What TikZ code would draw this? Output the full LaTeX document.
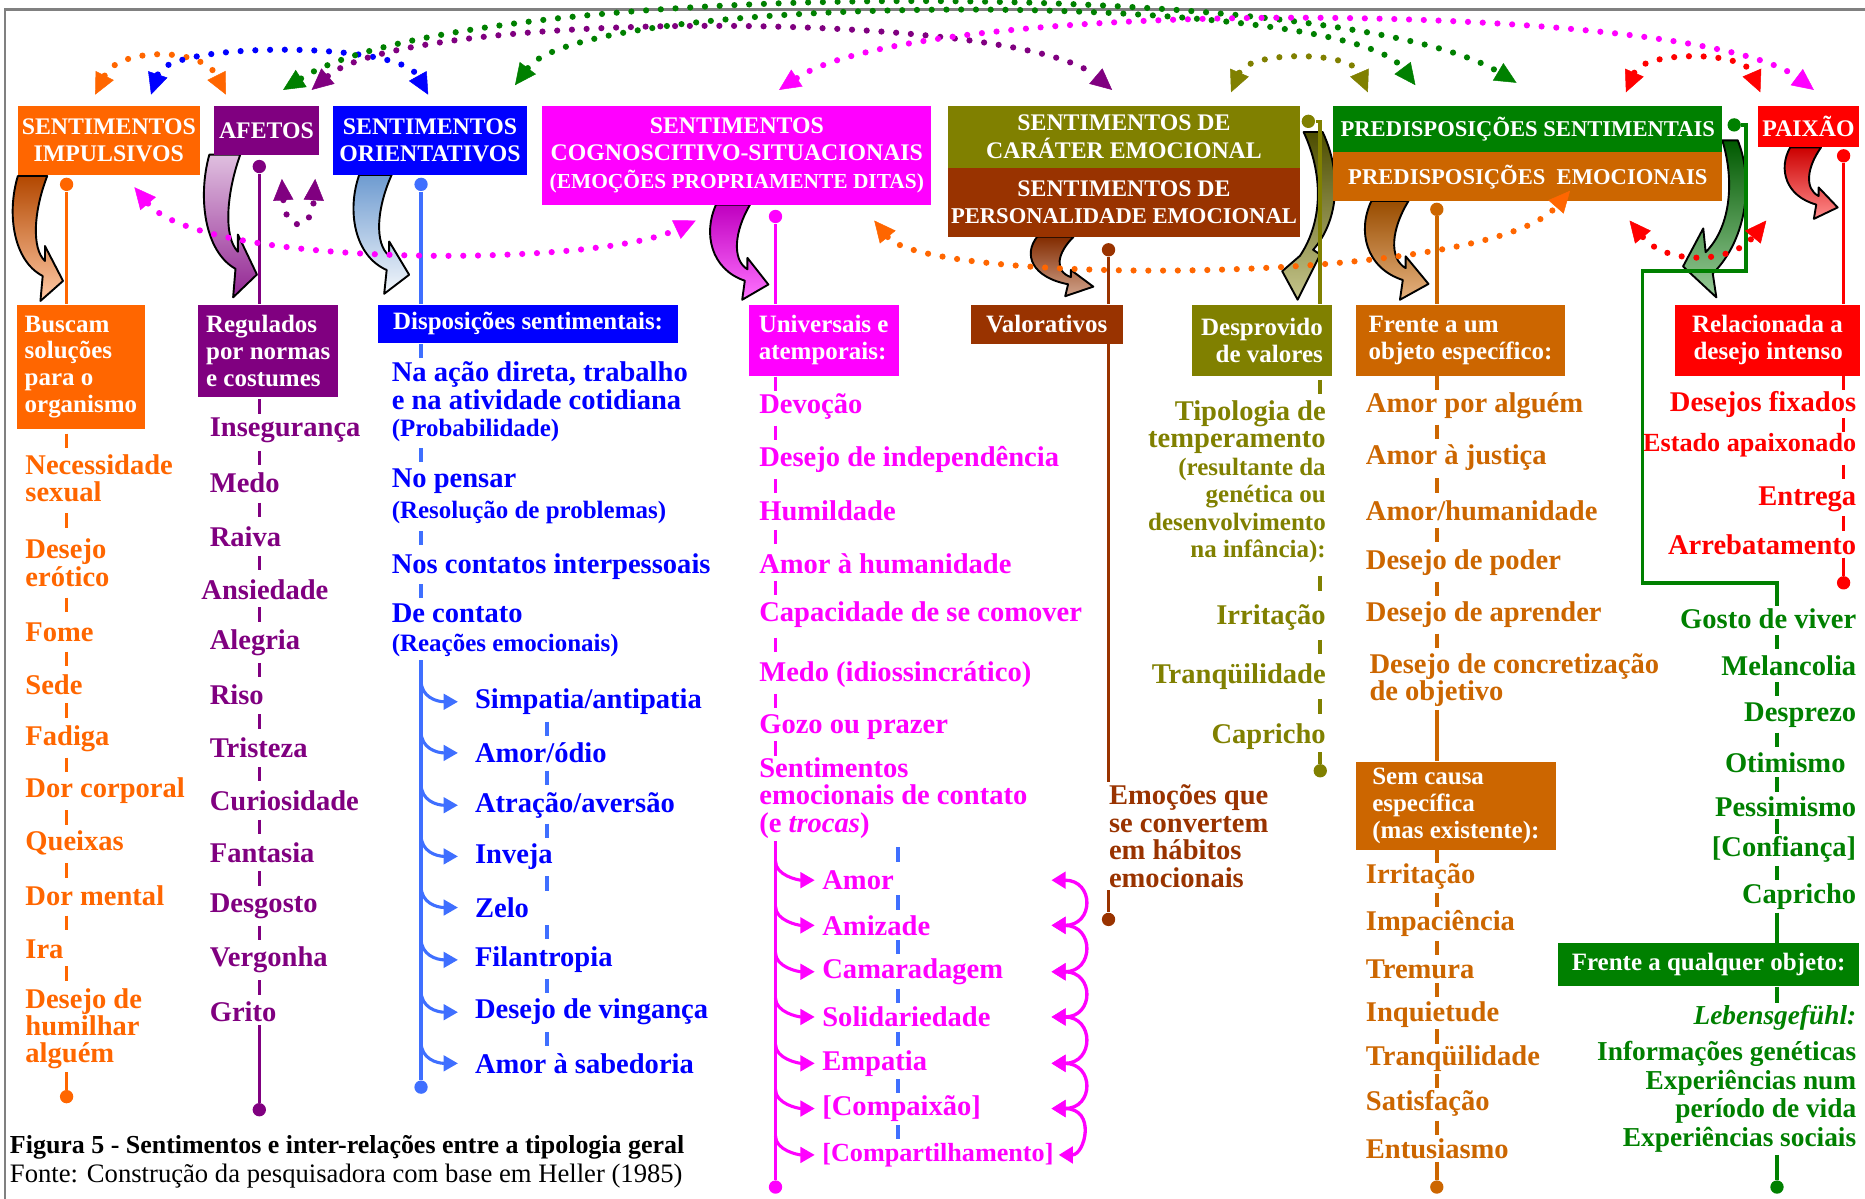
\documentclass[tikz,border=0pt]{standalone}
\usepackage{fontspec}
\setmainfont{Liberation Serif}
\usetikzlibrary{arrows.meta,calc}

\definecolor{cImp}{HTML}{FF6600}
\definecolor{cAfe}{HTML}{800080}
\definecolor{cOri}{HTML}{0000FF}
\definecolor{cOriL}{HTML}{3F6FFF}
\definecolor{cAzl}{HTML}{6E9BD0}
\definecolor{cCog}{HTML}{FF00FF}
\definecolor{cCar}{HTML}{808000}
\definecolor{cPer}{HTML}{993300}
\definecolor{cPSe}{HTML}{008000}
\definecolor{cPEm}{HTML}{CC6600}
\definecolor{cPai}{HTML}{FF0000}

\newcommand{\hdr}{\fontsize{10}{11.5}\selectfont\bfseries}
\newcommand{\sbf}{\fontsize{10.5}{11.3}\selectfont\bfseries}
\newcommand{\itm}{\fontsize{12}{11.5}\selectfont\bfseries}
\lineskiplimit=-50pt

% 曲がった矢印
\newcommand{\curva}[5]{%
  \shadedraw[shift={#1}, xscale=#2, yscale=#3, top color=#4, bottom color=#5,
    draw=black, line width=0.8pt, line join=round]
    (0,0) .. controls (-10,30) and (-4,68) .. (22,80) -- (20,100) -- (40,84)
    -- (24,56) -- (24,68) .. controls (12,58) and (14,28) .. (26,0) -- cycle;}

\tikzset{
  hbox/.style={fill=#1, text=white, font=\hdr, align=center, inner sep=0pt},
  sbox/.style={fill=#1, text=white, font=\sbf, inner sep=0pt},
  esq/.style={text=#1, font=\itm, inner sep=1pt, anchor=west, align=left},
  dir/.style={text=#1, font=\itm, inner sep=1pt, anchor=east, align=right},
  pto/.style={circle, fill=#1, inner sep=0pt, minimum size=5.6pt},
  ln/.style={draw=#1, line width=1.5pt},
  traco/.style={draw=#1, line width=1.5pt,
    to path={($(\tikztostart)!.5!(\tikztotarget)$) ++(0,-6) -- ++(0,12)}},
  ramo/.style={draw=#1, line width=1.3pt, -{Triangle[length=6pt,width=6.5pt]}},
  chave/.style={draw=#1, line width=1.4pt,
    {Triangle[length=6pt,width=7pt]}-{Triangle[length=6pt,width=7pt]}},
  arco/.style={draw=#1, line width=2.6pt, line cap=round, dash pattern=on 0pt off 6.2pt,
    {Triangle[length=9pt,width=8.5pt,line width=0.2pt]}-{Triangle[length=9pt,width=8.5pt,line width=0.2pt]}}
}

\begin{document}
\begin{tikzpicture}[x=0.5pt, y=-0.5pt]
  \useasboundingbox (0,0) rectangle (1568,1008);

  % 枠
  \draw[gray, line width=1pt] (4,1008) -- (4,8) -- (1568,8);

  % 曲がった矢印
  \curva{(15,148)}{0.95}{1.05}{cImp!70!black}{cImp!35!white}
  \curva{(176,130)}{1}{1.2}{cAfe!25!white}{cAfe!85!white}
  \curva{(302,147)}{1.05}{1}{cAzl}{cAzl!8!white}
  \curva{(602,172)}{1.1}{0.8}{cCog!75!black}{cCog!55!white}
  \curva{(872,199)}{1.18}{0.5}{cPer!85!black}{cPer!45!white}
  \curva{(1153,169)}{1.2}{0.83}{cPEm!75!black}{cPEm!50!white}
  \curva{(1505,124)}{1}{0.6}{cPai!80!black}{cPai!45!white}
  \shadedraw[top color=cCar!60!black, bottom color=cCar!45!white, line width=0.8pt, line join=round]
    (1112,111) .. controls (1128,145) and (1126,185) .. (1104,210) -- (1110,214) -- (1091,252)
    -- (1078,228) -- (1093,215) .. controls (1113,185) and (1112,145) .. (1096,111) -- cycle;
  \shadedraw[top color=cPSe!70!black, bottom color=cPSe!40!white, line width=0.8pt, line join=round]
    (1461,118) .. controls (1474,150) and (1470,200) .. (1440,230) -- (1443,250) -- (1415,224)
    -- (1432,192) -- (1434,212) .. controls (1456,190) and (1458,150) .. (1448,118) -- cycle;

  % 見出し
  \node[hbox=cImp, minimum width=76.5pt, minimum height=29pt] (imp) at (91.5,118) {SENTIMENTOS\\IMPULSIVOS};
  \node[hbox=cAfe, minimum width=44pt, minimum height=20.5pt] (afe) at (224,109.5) {AFETOS};
  \node[hbox=cOri, minimum width=81.5pt, minimum height=29pt] (ori) at (361.5,118) {SENTIMENTOS\\ORIENTATIVOS};
  \node[hbox=cCog, minimum width=163.5pt, minimum height=41.5pt] (cog) at (619.5,130.5)
    {SENTIMENTOS\\COGNOSCITIVO-SITUACIONAIS\\{\fontsize{9}{10}\selectfont(EMOÇÕES PROPRIAMENTE DITAS)}};
  \node[hbox=cCar, minimum width=148pt, minimum height=26pt] (car) at (945,115) {SENTIMENTOS DE\\CARÁTER EMOCIONAL};
  \node[hbox=cPer, minimum width=148pt, minimum height=29pt] (per) at (945,170)
    {SENTIMENTOS DE\\{\fontsize{9.5}{10}\selectfont PERSONALIDADE EMOCIONAL}};
  \node[hbox=cPSe, font=\fontsize{9.5}{11}\selectfont\bfseries, minimum width=163.5pt, minimum height=19.5pt] (pse) at (1284.5,108.5) {PREDISPOSIÇÕES SENTIMENTAIS};
  \node[hbox=cPEm, font=\fontsize{9.5}{11}\selectfont\bfseries, minimum width=163.5pt, minimum height=20.5pt] (pem) at (1284.5,148.5) {PREDISPOSIÇÕES\ \ EMOCIONAIS};
  \node[hbox=cPai, minimum width=42.5pt, minimum height=17.5pt] (pai) at (1520.5,106.5) {PAIXÃO};

  % 下の箱
  \node[sbox=cImp, minimum width=54pt, minimum height=52.5pt, align=left] (bus) at (68,308.5) {Buscam\\soluções\\para o\\organismo};
  \node[sbox=cAfe, minimum width=59pt, minimum height=39pt, align=left] (reg) at (225.5,295) {Regulados\\por normas\\e costumes};
  \node[sbox=cOri, minimum width=126pt, minimum height=16pt] (dis) at (444,272) {Disposições sentimentais:};
  \node[sbox=cCog, minimum width=63pt, minimum height=30pt, align=left] (uni) at (692.5,286) {Universais e\\atemporais:};
  \node[sbox=cPer, minimum width=64pt, minimum height=16.5pt] (val) at (880,272.5) {Valorativos};
  \node[sbox=cCar, minimum width=59pt, minimum height=30pt, align=right] (des) at (1061,286) {Desprovido\\de valores};
  \node[sbox=cPEm, minimum width=88pt, minimum height=30pt, align=left] (fre) at (1228,286) {Frente a um\\objeto específico:};
  \node[sbox=cPai, minimum width=78pt, minimum height=30pt, align=right] (rel) at (1486,286) {Relacionada a\\desejo intenso};
  \node[sbox=cPEm, minimum width=84pt, minimum height=37pt, align=left] (sem) at (1224,677.5) {Sem causa\\específica\\(mas existente):};
  \node[sbox=cPSe, minimum width=126.5pt, minimum height=18pt] (qua) at (1436.5,811) {Frente a qualquer objeto:};

  % 値を入れる
  \node[esq=cImp] (n1) at (19,402) {Necessidade\\sexual};
  \node[esq=cImp] (n2) at (19,473) {Desejo\\erótico};
  \node[esq=cImp] (n3) at (19,532) {Fome};
  \node[esq=cImp] (n4) at (19,576) {Sede};
  \node[esq=cImp] (n5) at (19,621) {Fadiga};
  \node[esq=cImp] (n6) at (19,665) {Dor corporal};
  \node[esq=cImp] (n7) at (19,709) {Queixas};
  \node[esq=cImp] (n8) at (19,753) {Dor mental};
  \node[esq=cImp] (n9) at (19,798) {Ira};
  \node[esq=cImp] (n10) at (19,865) {Desejo de\\humilhar\\alguém};

  \node[esq=cAfe] (a1) at (174,362) {Insegurança};
  \node[esq=cAfe] (a2) at (174,406) {Medo};
  \node[esq=cAfe] (a3) at (174,451) {Raiva};
  \node[esq=cAfe] (a4) at (167,496) {Ansiedade};
  \node[esq=cAfe] (a5) at (174,540) {Alegria};
  \node[esq=cAfe] (a6) at (174,584) {Riso};
  \node[esq=cAfe] (a7) at (174,629) {Tristeza};
  \node[esq=cAfe] (a8) at (174,673) {Curiosidade};
  \node[esq=cAfe] (a9) at (174,717) {Fantasia};
  \node[esq=cAfe] (a10) at (174,762) {Desgosto};
  \node[esq=cAfe] (a11) at (174,807) {Vergonha};
  \node[esq=cAfe] (a12) at (174,851) {Grito};

  \node[esq=cOri] (o1) at (327,338) {Na ação direta, trabalho\\e na atividade cotidiana\\{\sbf(Probabilidade)}};
  \node[esq=cOri] (o2) at (327,417) {No pensar\\[1.5pt]{\sbf(Resolução de problemas)}};
  \node[esq=cOri] (o3) at (327,476) {Nos contatos interpessoais};
  \node[esq=cOri] (o4) at (327,530) {De contato\\[1pt]{\sbf(Reações emocionais)}};

  \node[esq=cOri] (s1) at (397,590) {Simpatia/antipatia};
  \node[esq=cOri] (s2) at (397,633) {Amor/ódio};
  \node[esq=cOri] (s3) at (397,677) {Atração/aversão};
  \node[esq=cOri] (s4) at (397,720) {Inveja};
  \node[esq=cOri] (s5) at (397,763) {Zelo};
  \node[esq=cOri] (s6) at (397,807) {Filantropia};
  \node[esq=cOri] (s7) at (397,851) {Desejo de vingança};
  \node[esq=cOri] (s8) at (397,894) {Amor à sabedoria};

  \node[esq=cCog] (c1) at (636,342) {Devoção};
  \node[esq=cCog] (c2) at (636,386) {Desejo de independência};
  \node[esq=cCog] (c3) at (636,429) {Humildade};
  \node[esq=cCog] (c4) at (636,474) {Amor à humanidade};
  \node[esq=cCog] (c5) at (636,517) {Capacidade de se comover};
  \node[esq=cCog] (c6) at (636,567) {Medo (idiossincrático)};
  \node[esq=cCog] (c7) at (636,611) {Gozo ou prazer};
  \node[esq=cCog] (c8) at (636,671) {Sentimentos\\emocionais de contato\\(e \textit{trocas})};

  \node[esq=cCog] (m1) at (689,740) {Amor};
  \node[esq=cCog] (m2) at (689,778) {Amizade};
  \node[esq=cCog] (m3) at (689,817) {Camaradagem};
  \node[esq=cCog] (m4) at (689,855) {Solidariedade};
  \node[esq=cCog] (m5) at (689,894) {Empatia};
  \node[esq=cCog] (m6) at (689,932) {[Compaixão]};
  \node[esq=cCog, font=\fontsize{11}{11.5}\selectfont\bfseries] (m7) at (689,971) {[Compartilhamento]};

  \node[esq=cPer] (em) at (930,703) {Emoções que\\se convertem\\em hábitos\\emocionais};

  \node[dir=cCar] (t1) at (1117,405) {Tipologia de\\temperamento\\{\sbf(resultante da}\\{\sbf genética ou}\\{\sbf desenvolvimento}\\{\sbf na infância):}};
  \node[dir=cCar] (t2) at (1117,519) {Irritação};
  \node[dir=cCar] (t3) at (1117,569) {Tranqüilidade};
  \node[dir=cCar] (t4) at (1117,619) {Capricho};

  \node[esq=cPEm] (f1) at (1146,341) {Amor por alguém};
  \node[esq=cPEm] (f2) at (1146,385) {Amor à justiça};
  \node[esq=cPEm] (f3) at (1146,429) {Amor/humanidade};
  \node[esq=cPEm] (f4) at (1146,473) {Desejo de poder};
  \node[esq=cPEm] (f5) at (1146,517) {Desejo de aprender};
  \node[esq=cPEm] (f6) at (1149,572) {Desejo de concretização\\de objetivo};

  \node[esq=cPEm] (g1) at (1146,737) {Irritação};
  \node[esq=cPEm] (g2) at (1146,776) {Impaciência};
  \node[esq=cPEm] (g3) at (1146,815) {Tremura};
  \node[esq=cPEm] (g4) at (1146,853) {Inquietude};
  \node[esq=cPEm] (g5) at (1146,890) {Tranqüilidade};
  \node[esq=cPEm] (g6) at (1146,928) {Satisfação};
  \node[esq=cPEm] (g7) at (1146,966) {Entusiasmo};

  \node[dir=cPai] (r1) at (1563,340) {Desejos fixados};
  \node[dir=cPai, font=\fontsize{11}{11.5}\selectfont\bfseries] (r2) at (1563,374) {Estado apaixonado};
  \node[dir=cPai] (r3) at (1563,420) {Entrega};
  \node[dir=cPai] (r4) at (1563,458) {Arrebatamento};

  \node[dir=cPSe] (v1) at (1563,520) {Gosto de viver};
  \node[dir=cPSe] (v2) at (1563,560) {Melancolia};
  \node[dir=cPSe] (v3) at (1563,601) {Desprezo};
  \node[dir=cPSe] (v4) at (1554,641) {Otimismo};
  \node[dir=cPSe] (v5) at (1563,678) {Pessimismo};
  \node[dir=cPSe] (v6) at (1563,714) {[Confiança]};
  \node[dir=cPSe] (v7) at (1563,754) {Capricho};
  \node[dir=cPSe, anchor=north east, font=\fontsize{11.5}{12}\selectfont\bfseries] (leb) at (1563,843)
    {\textit{Lebensgefühl:}\\[3pt]Informações genéticas\\Experiências num\\período de vida\\Experiências sociais};

  \node[anchor=west, inner sep=0pt, font=\fontsize{10.9}{12}\selectfont\bfseries] (leg) at (8,965)
    {Figura 5 - Sentimentos e inter-relações entre a tipologia geral};
  \node[anchor=west, inner sep=0pt, font=\fontsize{11.2}{12}\selectfont] (fon) at (8,989)
    {Fonte: Construção da pesquisadora com base em Heller (1985)};

  % 点
  \node[pto=cImp] (d1) at (56,155) {};
  \node[pto=cImp] (d1b) at (56,922) {};
  \node[pto=cAfe] (d2) at (218,140) {};
  \node[pto=cAfe] (d2b) at (218,933) {};
  \node[pto=cOriL] (d3) at (354,155) {};
  \node[pto=cOriL] (d3b) at (354,914) {};
  \node[pto=cCog] (d4) at (652,182) {};
  \node[pto=cCog] (d4b) at (652,998) {};
  \node[pto=cPer] (d5) at (932,210) {};
  \node[pto=cPer] (d5b) at (932,773) {};
  \node[pto=cCar] (d6) at (1100,102) {};
  \node[pto=cCar] (d6b) at (1110,648) {};
  \node[pto=cPEm] (d7) at (1208,176) {};
  \node[pto=cPEm] (d7b) at (1208,998) {};
  \node[pto=cPai] (d8) at (1550,131) {};
  \node[pto=cPai] (d8b) at (1550,490) {};
  \node[pto=cPSe] (d9) at (1458,105) {};
  \node[pto=cPSe] (d9b) at (1494,998) {};
  \coordinate (bsx) at (460,600);
  \coordinate (msx) at (755,700);
  \coordinate (rbx) at (884,740);

  % 線を引く
  \draw[ln=cImp] (d1) -- (bus.north -| d1);
  \draw[traco=cImp] (bus.south -| d1) to (n1.north -| d1);
  \draw[traco=cImp] (n1.south -| d1) to (n2.north -| d1);
  \draw[traco=cImp] (n2.south -| d1) to (n3.north -| d1);
  \draw[traco=cImp] (n3.south -| d1) to (n4.north -| d1);
  \draw[traco=cImp] (n4.south -| d1) to (n5.north -| d1);
  \draw[traco=cImp] (n5.south -| d1) to (n6.north -| d1);
  \draw[traco=cImp] (n6.south -| d1) to (n7.north -| d1);
  \draw[traco=cImp] (n7.south -| d1) to (n8.north -| d1);
  \draw[traco=cImp] (n8.south -| d1) to (n9.north -| d1);
  \draw[traco=cImp] (n9.south -| d1) to (n10.north -| d1);
  \draw[ln=cImp] (n10.south -| d1) -- (d1b);

  \draw[ln=cAfe] (d2) -- (reg.north -| d2);
  \draw[traco=cAfe] (reg.south -| d2) to (a1.north -| d2);
  \draw[traco=cAfe] (a1.south -| d2) to (a2.north -| d2);
  \draw[traco=cAfe] (a2.south -| d2) to (a3.north -| d2);
  \draw[traco=cAfe] (a3.south -| d2) to (a4.north -| d2);
  \draw[traco=cAfe] (a4.south -| d2) to (a5.north -| d2);
  \draw[traco=cAfe] (a5.south -| d2) to (a6.north -| d2);
  \draw[traco=cAfe] (a6.south -| d2) to (a7.north -| d2);
  \draw[traco=cAfe] (a7.south -| d2) to (a8.north -| d2);
  \draw[traco=cAfe] (a8.south -| d2) to (a9.north -| d2);
  \draw[traco=cAfe] (a9.south -| d2) to (a10.north -| d2);
  \draw[traco=cAfe] (a10.south -| d2) to (a11.north -| d2);
  \draw[traco=cAfe] (a11.south -| d2) to (a12.north -| d2);
  \draw[ln=cAfe] (a12.south -| d2) -- (d2b);

  \draw[ln=cOriL] (d3) -- (dis.north -| d3);
  \draw[traco=cOriL] (dis.south -| d3) to (o1.north -| d3);
  \draw[traco=cOriL] (o1.south -| d3) to (o2.north -| d3);
  \draw[traco=cOriL] (o2.south -| d3) to (o3.north -| d3);
  \draw[traco=cOriL] (o3.south -| d3) to (o4.north -| d3);
  \draw[ln=cOriL] (o4.south -| d3) -- (d3b);
  \draw[traco=cOriL] (s1.south -| bsx) to (s2.north -| bsx);
  \draw[traco=cOriL] (s2.south -| bsx) to (s3.north -| bsx);
  \draw[traco=cOriL] (s3.south -| bsx) to (s4.north -| bsx);
  \draw[traco=cOriL] (s4.south -| bsx) to (s5.north -| bsx);
  \draw[traco=cOriL] (s5.south -| bsx) to (s6.north -| bsx);
  \draw[traco=cOriL] (s6.south -| bsx) to (s7.north -| bsx);
  \draw[traco=cOriL] (s7.south -| bsx) to (s8.north -| bsx);
  \draw[ramo=cOriL] ($(s1.west -| d3)+(0,-18)$) .. controls +(0,14) and +(-18,0) .. ($(s1.west)+(-12,0)$);
  \draw[ramo=cOriL] ($(s2.west -| d3)+(0,-18)$) .. controls +(0,14) and +(-18,0) .. ($(s2.west)+(-12,0)$);
  \draw[ramo=cOriL] ($(s3.west -| d3)+(0,-18)$) .. controls +(0,14) and +(-18,0) .. ($(s3.west)+(-12,0)$);
  \draw[ramo=cOriL] ($(s4.west -| d3)+(0,-18)$) .. controls +(0,14) and +(-18,0) .. ($(s4.west)+(-12,0)$);
  \draw[ramo=cOriL] ($(s5.west -| d3)+(0,-18)$) .. controls +(0,14) and +(-18,0) .. ($(s5.west)+(-12,0)$);
  \draw[ramo=cOriL] ($(s6.west -| d3)+(0,-18)$) .. controls +(0,14) and +(-18,0) .. ($(s6.west)+(-12,0)$);
  \draw[ramo=cOriL] ($(s7.west -| d3)+(0,-18)$) .. controls +(0,14) and +(-18,0) .. ($(s7.west)+(-12,0)$);
  \draw[ramo=cOriL] ($(s8.west -| d3)+(0,-18)$) .. controls +(0,14) and +(-18,0) .. ($(s8.west)+(-12,0)$);

  \draw[ln=cCog] (d4) -- (uni.north -| d4);
  \draw[traco=cCog] (uni.south -| d4) to (c1.north -| d4);
  \draw[traco=cCog] (c1.south -| d4) to (c2.north -| d4);
  \draw[traco=cCog] (c2.south -| d4) to (c3.north -| d4);
  \draw[traco=cCog] (c3.south -| d4) to (c4.north -| d4);
  \draw[traco=cCog] (c4.south -| d4) to (c5.north -| d4);
  \draw[traco=cCog] (c5.south -| d4) to (c6.north -| d4);
  \draw[traco=cCog] (c6.south -| d4) to (c7.north -| d4);
  \draw[traco=cCog] (c7.south -| d4) to (c8.north -| d4);
  \draw[ln=cCog] (c8.south -| d4) -- (d4b);
  \draw[traco=cOriL] (c8.south -| msx) to (m1.north -| msx);
  \draw[traco=cOriL] (m1.south -| msx) to (m2.north -| msx);
  \draw[traco=cOriL] (m2.south -| msx) to (m3.north -| msx);
  \draw[traco=cOriL] (m3.south -| msx) to (m4.north -| msx);
  \draw[traco=cOriL] (m4.south -| msx) to (m5.north -| msx);
  \draw[traco=cOriL] (m5.south -| msx) to (m6.north -| msx);
  \draw[traco=cOriL] (m6.south -| msx) to (m7.north -| msx);
  \draw[ramo=cCog] ($(m1.west -| d4)+(0,-16)$) .. controls +(0,12) and +(-14,0) .. ($(m1.west)+(-4,0)$);
  \draw[ramo=cCog] ($(m2.west -| d4)+(0,-16)$) .. controls +(0,12) and +(-14,0) .. ($(m2.west)+(-4,0)$);
  \draw[ramo=cCog] ($(m3.west -| d4)+(0,-16)$) .. controls +(0,12) and +(-14,0) .. ($(m3.west)+(-4,0)$);
  \draw[ramo=cCog] ($(m4.west -| d4)+(0,-16)$) .. controls +(0,12) and +(-14,0) .. ($(m4.west)+(-4,0)$);
  \draw[ramo=cCog] ($(m5.west -| d4)+(0,-16)$) .. controls +(0,12) and +(-14,0) .. ($(m5.west)+(-4,0)$);
  \draw[ramo=cCog] ($(m6.west -| d4)+(0,-16)$) .. controls +(0,12) and +(-14,0) .. ($(m6.west)+(-4,0)$);
  \draw[ramo=cCog] ($(m7.west -| d4)+(0,-16)$) .. controls +(0,12) and +(-14,0) .. ($(m7.west)+(-4,0)$);
  \draw[chave=cCog] (m1 -| rbx) .. controls +(36,0) and +(36,0) .. (m2 -| rbx);
  \draw[chave=cCog] (m2 -| rbx) .. controls +(36,0) and +(36,0) .. (m3 -| rbx);
  \draw[chave=cCog] (m3 -| rbx) .. controls +(36,0) and +(36,0) .. (m4 -| rbx);
  \draw[chave=cCog] (m4 -| rbx) .. controls +(36,0) and +(36,0) .. (m5 -| rbx);
  \draw[chave=cCog] (m5 -| rbx) .. controls +(36,0) and +(36,0) .. (m6 -| rbx);
  \draw[chave=cCog] (m6 -| rbx) .. controls +(38,0) and +(22,0) .. ($(m7.east)+(2,0)$);

  \draw[ln=cPer] (d5) -- (val.north -| d5);
  \draw[ln=cPer] (val.south -| d5) -- (em.north -| d5);
  \draw[ln=cPer] (em.south -| d5) -- (d5b);

  \draw[ln=cCar] (d6) -- (d6 -| d6b) -- (des.north -| d6b);
  \draw[traco=cCar] (des.south -| d6b) to (t1.north -| d6b);
  \draw[traco=cCar] (t1.south -| d6b) to (t2.north -| d6b);
  \draw[traco=cCar] (t2.south -| d6b) to (t3.north -| d6b);
  \draw[traco=cCar] (t3.south -| d6b) to (t4.north -| d6b);
  \draw[ln=cCar] (t4.south -| d6b) -- (d6b);

  \draw[ln=cPEm] (d7) -- (fre.north -| d7);
  \draw[traco=cPEm] (fre.south -| d7) to (f1.north -| d7);
  \draw[traco=cPEm] (f1.south -| d7) to (f2.north -| d7);
  \draw[traco=cPEm] (f2.south -| d7) to (f3.north -| d7);
  \draw[traco=cPEm] (f3.south -| d7) to (f4.north -| d7);
  \draw[traco=cPEm] (f4.south -| d7) to (f5.north -| d7);
  \draw[traco=cPEm] (f5.south -| d7) to (f6.north -| d7);
  \draw[ln=cPEm] (f6.south -| d7) -- (sem.north -| d7);
  \draw[traco=cPEm] (sem.south -| d7) to (g1.north -| d7);
  \draw[traco=cPEm] (g1.south -| d7) to (g2.north -| d7);
  \draw[traco=cPEm] (g2.south -| d7) to (g3.north -| d7);
  \draw[traco=cPEm] (g3.south -| d7) to (g4.north -| d7);
  \draw[traco=cPEm] (g4.south -| d7) to (g5.north -| d7);
  \draw[traco=cPEm] (g5.south -| d7) to (g6.north -| d7);
  \draw[traco=cPEm] (g6.south -| d7) to (g7.north -| d7);
  \draw[ln=cPEm] (g7.south -| d7) -- (d7b);

  \draw[ln=cPai] (d8) -- (rel.north -| d8);
  \draw[traco=cPai] (rel.south -| d8) to (r1.north -| d8);
  \draw[traco=cPai] (r1.south -| d8) to (r2.north -| d8);
  \draw[traco=cPai] (r2.south -| d8) to (r3.north -| d8);
  \draw[traco=cPai] (r3.south -| d8) to (r4.north -| d8);
  \draw[ln=cPai] (r4.south -| d8) -- (d8b);

  \draw[ln=cPSe] (d9) -- ++(10,0) -- ++(0,123) -- ++(-87,0) -- ++(0,262) -- ++(113,0) -- (v1.north -| d9b);
  \draw[traco=cPSe] (v1.south -| d9b) to (v2.north -| d9b);
  \draw[traco=cPSe] (v2.south -| d9b) to (v3.north -| d9b);
  \draw[traco=cPSe] (v3.south -| d9b) to (v4.north -| d9b);
  \draw[traco=cPSe] (v4.south -| d9b) to (v5.north -| d9b);
  \draw[traco=cPSe] (v5.south -| d9b) to (v6.north -| d9b);
  \draw[traco=cPSe] (v6.south -| d9b) to (v7.north -| d9b);
  \draw[ln=cPSe] (v7.south -| d9b) -- (qua.north -| d9b);
  \draw[ln=cPSe] (qua.south -| d9b) -- (leb.north -| d9b);
  \draw[ln=cPSe] (leb.south -| d9b) -- (d9b);

  % 点線の矢印
  \draw[arco=cImp] ($(imp.north)+(-11.5,-9)$) .. controls +(20,-40) and +(-20,-40) .. ($(afe.north)+(-34,-9)$);
  \draw[arco=cOri] ($(imp.north)+(35.5,-9)$) .. controls +(15,-45) and +(-25,-45) .. ($(ori.north)+(-1.5,-9)$);
  \draw[arco=cPSe] ($(afe.north)+(14,-13)$) .. controls +(150,-95) and +(-150,-90) .. ($(pse.north)+(-9.5,-19)$);
  \draw[arco=cPSe] ($(ori.north)+(71.5,-17)$) .. controls +(60,-80) and +(-60,-80) .. ($(pse.north)+(-94.5,-17)$);
  \draw[arco=cAfe] ($(afe.north)+(38,-13)$) .. controls +(80,-68) and +(-80,-68) .. ($(car.north)+(-10,-13)$);
  \draw[arco=cCog] ($(cog.north)+(35.5,-13)$) .. controls +(120,-80) and +(-100,-75) .. ($(pai.north)+(4.5,-13)$);
  \draw[arco=cCar] ($(car.north)+(90,-11)$) .. controls +(15,-35) and +(-15,-35) .. ($(pse.north)+(-134.5,-11)$);
  \draw[arco=cPai] ($(pse.north)+(82.5,-11)$) .. controls +(15,-35) and +(-15,-35) .. ($(pai.north)+(-40.5,-11)$);
  \draw[arco=cCog] ($(imp.south)+(21.5,10)$) .. controls +(57,68) and +(-85,40) .. ($(cog.south)+(-34.5,13)$);
  \draw[arco=cImp] ($(cog.south)+(115.5,13)$) .. controls +(45,55) and +(-70,80) .. ($(pem.south)+(35.5,-9)$);
  \draw[arco=cPai] ($(pem.south)+(85.5,16)$) .. controls +(30,37) and +(-30,37) .. ($(pai.south)+(-35.5,61)$);
  \draw[arco=cAfe] ($(afe.south)+(13,20)$) .. controls +(3,45) and +(-3,45) .. ($(afe.south)+(41,20)$);

\end{tikzpicture}
\end{document}
